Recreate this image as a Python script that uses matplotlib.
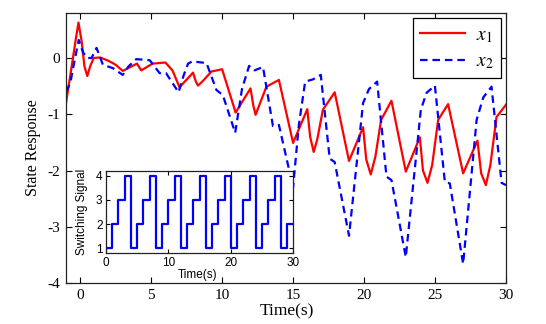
import matplotlib
matplotlib.use('Agg')
import matplotlib.pyplot as plt

# ---- data ----
t_x1 = [-1.0, -0.6, -0.3, -0.12, 0.1, 0.3, 0.5, 0.7, 0.95, 1.4, 2.0, 2.5, 3.0,
        4.0, 4.3, 5.1, 6.0, 6.5, 7.0, 7.95, 8.15, 8.3, 8.6, 9.25, 10.0, 10.95,
        12.0, 12.2, 12.36, 12.6, 13.12, 14.0, 15.0, 16.0, 16.2, 16.45, 16.7,
        17.1, 17.93, 18.94, 19.93, 20.15, 20.47, 20.8, 21.2, 21.93, 22.94,
        23.93, 24.15, 24.47, 24.8, 25.22, 25.92, 26.98, 27.99, 28.25, 28.58,
        28.9, 29.33, 30.0]
x1 = [-0.80, -0.15, 0.35, 0.63, 0.30, -0.15, -0.32, -0.15, 0.0, 0.01, -0.05,
      -0.12, -0.23, -0.10, -0.22, -0.10, -0.08, -0.22, -0.52, -0.26, -0.42,
      -0.49, -0.42, -0.24, -0.20, -0.97, -0.54, -0.85, -1.01, -0.85, -0.51,
      -0.39, -1.51, -0.91, -1.40, -1.67, -1.45, -0.92, -0.61, -1.83, -1.23,
      -1.80, -2.07, -1.75, -1.10, -0.76, -2.02, -1.41, -2.00, -2.22, -1.90,
      -1.10, -0.82, -2.05, -1.47, -2.05, -2.26, -1.90, -1.05, -0.83]

t_x2 = [-1.0, -0.7, -0.4, -0.1, 0.2, 0.5, 0.8, 1.15, 1.6, 2.3, 3.0, 3.4, 3.95,
        4.9, 5.6, 6.05, 6.93, 7.3, 7.6, 7.9, 8.9, 9.6, 10.05, 10.92, 11.4,
        11.9, 12.28, 12.88, 13.58, 14.0, 15.0, 15.4, 15.85, 16.4, 16.95,
        17.58, 17.93, 18.94, 19.93, 20.35, 20.92, 21.58, 21.93, 22.94, 24.0,
        24.4, 24.99, 25.69, 26.04, 26.98, 27.93, 28.4, 28.98, 29.69, 30.0]
x2 = [-0.60, -0.45, -0.05, 0.32, 0.10, 0.0, 0.0, 0.18, -0.12, -0.18, -0.30,
      -0.15, -0.02, -0.04, -0.27, -0.27, -0.61, -0.30, -0.10, -0.06, -0.09,
      -0.57, -0.66, -1.33, -0.55, -0.14, -0.22, -0.16, -1.21, -1.19, -2.30,
      -1.20, -0.42, -0.38, -0.30, -1.79, -1.85, -3.16, -0.80, -0.55, -0.42,
      -2.11, -2.17, -3.54, -0.92, -0.62, -0.49, -2.20, -2.23, -3.66, -1.10,
      -0.70, -0.51, -2.22, -2.26]

sw_times = list(range(0, 31))
sw_modes = [1, 2, 3, 4, 1, 2, 3, 4, 1, 2, 3, 4, 1, 2, 3, 4, 1, 2, 3, 4,
            1, 2, 3, 4, 1, 2, 3, 4, 1, 2]

main_xticks = [0, 5, 10, 15, 20, 25, 30]
main_yticks = [-4, -3, -2, -1, 0]
inset_xticks = [0, 10, 20, 30]
inset_yticks = [1, 2, 3, 4]

plt.rcParams['axes.unicode_minus'] = False
plt.rcParams['mathtext.fontset'] = 'stix'

W, H = 546, 324
fig = plt.figure(figsize=(W / 100, H / 100), dpi=100)

serif = 'Liberation Serif'
sans = 'Liberation Sans'

ax = fig.add_axes([66 / W, 1 - 283 / H, (506 - 66) / W, (283 - 13) / H])
l1, = ax.plot(t_x1, x1, color='#ff0000', lw=1.6, label=r'$x_1$')
l2, = ax.plot(t_x2, x2, color='#0000ff', lw=1.6, ls=(0, (3.4, 2.2)), label=r'$x_2$')
ax.set_xlim(-1, 30)
ax.set_ylim(-4, 0.8)
ax.set_xticks(main_xticks)
ax.set_yticks(main_yticks)
ax.tick_params(direction='in', top=True, right=True, length=4, width=0.8,
               labelsize=11, pad=4)
for lab in ax.get_xticklabels() + ax.get_yticklabels():
    lab.set_fontfamily(serif)
for s in ax.spines.values():
    s.set_linewidth(0.9)
    s.set_color('#222222')

leg = ax.legend(handles=[l1, l2], loc='upper right',
                bbox_to_anchor=(501 / W, 1 - 18 / H), bbox_transform=fig.transFigure,
                borderaxespad=0, fancybox=False, framealpha=1, edgecolor='black',
                fontsize=14, handlelength=2.3, handletextpad=0.6,
                borderpad=0.35, labelspacing=0.35)
leg.get_frame().set_linewidth(0.9)

fig.text(286.7 / W, 1 - 315.5 / H, 'Time(s)', ha='center', va='baseline',
         fontsize=12.5, family=serif)
fig.text(33 / W, 1 - 148 / H, 'State Response', ha='center', va='center',
         rotation=90, fontsize=11.5, family=serif)

# ---- inset ----
axi = fig.add_axes([106 / W, 1 - 253.3 / H, (293.3 - 106) / W, (253.3 - 170.7) / H])
axi.set_facecolor('white')
axi.plot(sw_times, sw_modes + [sw_modes[-1]], drawstyle='steps-post',
         color='#0000ff', lw=1.6)
axi.set_xlim(0, 30)
axi.set_ylim(0.8, 4.2)
axi.set_xticks(inset_xticks)
axi.set_yticks(inset_yticks)
axi.tick_params(direction='in', top=True, right=True, length=3, width=0.8,
                labelsize=8.5, pad=2.5)
for lab in axi.get_xticklabels() + axi.get_yticklabels():
    lab.set_fontfamily(sans)
for s in axi.spines.values():
    s.set_linewidth(0.9)
    s.set_color('#222222')
fig.text(198 / W, 1 - 275 / H, 'Time(s)', ha='center', va='center',
         fontsize=8.5, family=sans)
fig.text(82.5 / W, 1 - 212 / H, 'Switching Signal', ha='center', va='center',
         rotation=90, fontsize=8.5, family=sans)

fig.savefig('out.png', dpi=100)
